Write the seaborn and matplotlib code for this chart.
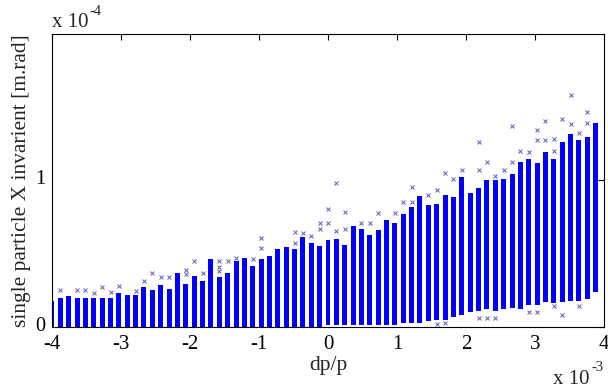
import matplotlib
matplotlib.use("Agg")
import matplotlib.pyplot as plt
import matplotlib.transforms as mtransforms
import seaborn as sns
import pandas as pd

# dp/p column positions (units of 1e-3)
dpp = [-4.000, -3.879, -3.758, -3.636, -3.515, -3.394, -3.273, -3.152, -3.030, -2.909,
       -2.788, -2.667, -2.545, -2.424, -2.303, -2.182, -2.061, -1.939, -1.818, -1.697,
       -1.576, -1.455, -1.333, -1.212, -1.091, -0.970, -0.848, -0.727, -0.606, -0.485,
       -0.364, -0.242, -0.121, 0.000, 0.121, 0.242, 0.364, 0.485, 0.606, 0.727,
       0.848, 0.970, 1.091, 1.212, 1.333, 1.455, 1.576, 1.697, 1.818, 1.939,
       2.061, 2.182, 2.303, 2.424, 2.545, 2.667, 2.788, 2.909, 3.030, 3.152,
       3.273, 3.394, 3.515, 3.636, 3.758, 3.879]

# upper edge of dense column (units of 1e-4 m.rad)
col_hi = [0.18, 0.20, 0.21, 0.20, 0.20, 0.20, 0.20, 0.20, 0.23, 0.22,
          0.22, 0.27, 0.25, 0.285, 0.26, 0.37, 0.29, 0.35, 0.31, 0.46,
          0.34, 0.37, 0.45, 0.47, 0.415, 0.46, 0.48, 0.53, 0.545, 0.53,
          0.61, 0.57, 0.55, 0.59, 0.60, 0.56, 0.69, 0.67, 0.625, 0.66,
          0.73, 0.71, 0.77, 0.815, 0.89, 0.83, 0.84, 0.90, 0.885, 1.02,
          0.91, 0.945, 1.00, 1.00, 1.01, 1.04, 1.12, 1.14, 1.115, 1.19,
          1.14, 1.26, 1.31, 1.27, 1.29, 1.39]

# lower edge of dense column
col_lo = [0, 0, 0, 0, 0, 0, 0, 0, 0, 0,
          0, 0, 0, 0, 0, 0, 0, 0, 0, 0,
          0, 0, 0, 0, 0, 0, 0, 0, 0, 0,
          0, 0, 0, 0.015, 0.015, 0.015, 0.015, 0.015, 0.015, 0.015,
          0.015, 0.015, 0.027, 0.027, 0.027, 0.04, 0.05, 0.05, 0.07, 0.08,
          0.10, 0.11, 0.12, 0.11, 0.12, 0.13, 0.12, 0.15, 0.15, 0.17,
          0.165, 0.17, 0.18, 0.18, 0.19, 0.24]

# scattered single particles outside the dense columns
out_idx = [1, 3, 4, 5, 6, 7, 8, 10, 11, 12, 13, 14, 16, 16, 17, 18, 20, 20, 20, 21,
           22, 24, 25, 25, 29, 29, 30, 31, 32, 32, 33, 33, 34, 34, 35, 35, 37, 38, 39, 41,
           42, 43, 43, 45, 46, 47, 48, 49, 51, 51, 52, 53, 54, 55, 55, 56, 57, 58, 58, 59,
           59, 60, 60, 61, 62, 62, 63, 64, 64,
           46, 47, 51, 52, 53, 57, 58, 60, 61, 63]
out_val = [0.25, 0.25, 0.25, 0.23, 0.27, 0.24, 0.28, 0.245, 0.31, 0.37, 0.34, 0.34, 0.39, 0.36, 0.45, 0.37, 0.45, 0.41, 0.38, 0.45,
           0.47, 0.46, 0.54, 0.605, 0.57, 0.645, 0.64, 0.62, 0.67, 0.71, 0.71, 0.80, 0.65, 0.98, 0.67, 0.78, 0.71, 0.71, 0.775, 0.775,
           0.85, 0.85, 0.95, 0.90, 0.93, 1.05, 1.01, 1.07, 1.07, 1.26, 1.12, 1.03, 1.07, 1.12, 1.37, 1.20, 1.19, 1.34, 1.27, 1.27,
           1.40, 1.20, 1.28, 1.415, 1.38, 1.58, 1.32, 1.39, 1.46,
           0.02, 0.03, 0.06, 0.06, 0.06, 0.10, 0.10, 0.14, 0.08, 0.14]

xticks = [-4, -3, -2, -1, 0, 1, 2, 3, 4]
yticks = [0, 1]

sns.set_style("white")
plt.rcParams['font.family'] = ['Liberation Serif', 'DejaVu Serif']

W, H = 608, 388
fig = plt.figure(figsize=(W / 100, H / 100), dpi=100)
ax = fig.add_axes([52 / W, 61 / H, 552 / W, 293 / H])

heights = [h - l for h, l in zip(col_hi, col_lo)]
ax.bar(dpp, heights, bottom=col_lo, width=0.072, color="#0000ff", linewidth=0, zorder=2)

df_out = pd.DataFrame({"x": [dpp[i] for i in out_idx], "y": out_val})
sns.scatterplot(data=df_out, x="x", y="y", marker="x", s=8, color="#5a5ab8",
                linewidth=0.7, ax=ax, zorder=3, legend=False)

ax.set_xlim(-4, 4)
ax.set_ylim(0, 1.993)
ax.set_xticks(xticks)
ax.set_xticklabels([str(t) for t in xticks])
ax.set_yticks(yticks)
ax.set_yticklabels([str(t) for t in yticks])
ax.tick_params(direction="in", top=True, right=True, length=4, width=0.8,
               labelsize=15, colors="black")
ax.tick_params(axis="x", pad=5.5)
ax.tick_params(axis="y", pad=5, labelsize=14.5)
for s in ax.spines.values():
    s.set_color("black")
    s.set_linewidth(0.8)
    s.set_visible(True)

# nudge the y tick labels slightly upward so "0" clears "-4"
off = mtransforms.ScaledTranslation(0, 3 / 100, fig.dpi_scale_trans)
for lab in ax.get_yticklabels():
    lab.set_transform(lab.get_transform() + off)

ax.set_xlabel("dp/p", fontsize=15.5, labelpad=2)
ax.set_ylabel("single particle X invarient [m.rad]", fontsize=15.5, labelpad=3)

# exponent multipliers
fig.text(52 / W, 1 - 27 / H, "x 10", fontsize=15, ha="left", va="baseline")
fig.text(90 / W, 1 - 15 / H, "-4", fontsize=10.5, ha="left", va="baseline")
fig.text(553 / W, 1 - 384 / H, "x 10", fontsize=15, ha="left", va="baseline")
fig.text(592 / W, 1 - 371 / H, "-3", fontsize=10.5, ha="left", va="baseline")

fig.savefig("out.png", dpi=100)
